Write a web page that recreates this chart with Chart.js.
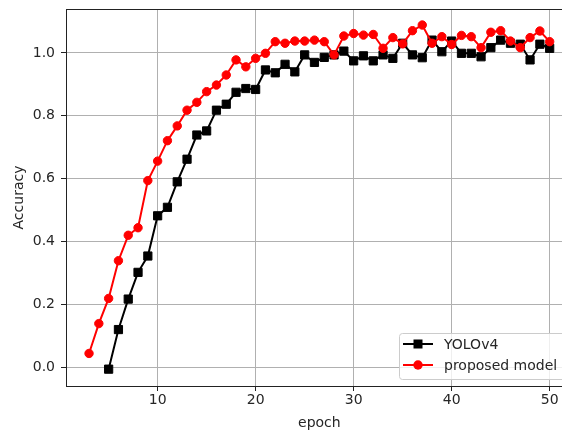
<!DOCTYPE html>
<html>
<head>
<meta charset="utf-8">
<script src="https://cdn.jsdelivr.net/npm/chart.js"></script>
<style>
  html, body { margin: 0; padding: 0; overflow: hidden; background: #fff; }
  canvas { display: block; }
</style>
</head>
<body>
<canvas id="myChart" width="562" height="432"></canvas>
<script>
// epochs and accuracy
const proposedEpochs = [3, 4, 5, 6, 7, 8, 9, 10, 11, 12, 13, 14, 15, 16, 17, 18, 19, 20, 21, 22, 23, 24, 25, 26,
    27, 28, 29, 30, 31, 32, 33, 34, 35, 36, 37, 38, 39, 40, 41, 42, 43, 44, 45, 46, 47, 48, 49, 50];
const proposedAcc = [0.044, 0.139, 0.219, 0.339, 0.420, 0.444, 0.594, 0.656, 0.721, 0.768, 0.818, 0.843,
    0.877, 0.898, 0.930, 0.978, 0.956, 0.983, 0.999, 1.036, 1.031, 1.038, 1.038, 1.041,
    1.036, 0.994, 1.054, 1.062, 1.057, 1.059, 1.015, 1.049, 1.029, 1.071, 1.089, 1.031,
    1.052, 1.027, 1.056, 1.052, 1.017, 1.066, 1.071, 1.038, 1.017, 1.049, 1.070, 1.036];

const yoloEpochs = [5, 6, 7, 8, 9, 10, 11, 12, 13, 14, 15, 16, 17, 18, 19, 20, 21, 22, 23, 24, 25, 26,
    27, 28, 29, 30, 31, 32, 33, 34, 35, 36, 37, 38, 39, 40, 41, 42, 43, 44, 45, 46, 47, 48, 49, 50];
const yoloAcc = [-0.006, 0.120, 0.217, 0.302, 0.354, 0.482, 0.509, 0.590, 0.662, 0.739, 0.752, 0.818,
    0.837, 0.875, 0.887, 0.884, 0.946, 0.937, 0.964, 0.940, 0.994, 0.970, 0.986, 0.994,
    1.006, 0.975, 0.991, 0.975, 0.994, 0.983, 1.031, 0.994, 0.985, 1.041, 1.004, 1.038,
    0.999, 0.999, 0.988, 1.017, 1.041, 1.031, 1.028, 0.978, 1.028, 1.015];

const xTicks = [10, 20, 30, 40, 50];
const yTicks = [0.0, 0.2, 0.4, 0.6, 0.8, 1.0];

const FONT = 'DejaVu Sans';
const TXT = '#262626';
const PLOT_RIGHT = 572.7; // plot box runs past the right edge of the picture

function toPoints(xs, ys) {
    return xs.map((x, i) => ({ x: x, y: ys[i] }));
}

// stretch the plot past the canvas edge, the reference is cropped there
const overhangPlugin = {
    id: 'overhang',
    afterLayout(chart) {
        const xs = chart.scales.x;
        const extra = PLOT_RIGHT - chart.chartArea.right;
        xs.right += extra;
        xs.width += extra;
        chart.chartArea.right += extra;
        chart.chartArea.width += extra;
        xs.configure();
    }
};

// top frame line + legend inside the plot (lower right, like matplotlib)
const framePlugin = {
    id: 'frame',
    afterDraw(chart) {
        const c = chart.ctx;
        const a = chart.chartArea;
        c.save();
        c.strokeStyle = '#222';
        c.lineWidth = 1;
        c.beginPath();
        c.moveTo(a.left, a.top + 0.5);
        c.lineTo(a.right, a.top + 0.5);
        c.stroke();

        // legend box
        const bx = 399, by = 333, bw = a.right - 7 - bx, bh = 46;
        c.fillStyle = 'rgba(255,255,255,0.8)';
        c.strokeStyle = '#cccccc';
        c.beginPath();
        c.roundRect(bx + 0.5, by + 0.5, bw, bh, 3);
        c.fill();
        c.stroke();

        const items = [
            { label: 'YOLOv4', color: '#000000', style: 'rect', y: 344 },
            { label: 'proposed model', color: '#ff0000', style: 'circle', y: 365 }
        ];
        items.forEach(it => {
            c.strokeStyle = it.color;
            c.fillStyle = it.color;
            c.lineWidth = 2;
            c.beginPath();
            c.moveTo(403, it.y);
            c.lineTo(433, it.y);
            c.stroke();
            if (it.style === 'rect') {
                c.fillRect(418 - 4.5, it.y - 4.5, 9, 9);
            } else {
                c.beginPath();
                c.arc(418, it.y, 4.7, 0, Math.PI * 2);
                c.fill();
            }
            c.fillStyle = TXT;
            c.font = '14px "' + FONT + '"';
            c.textAlign = 'left';
            c.textBaseline = 'middle';
            c.fillText(it.label, 444, it.y + 1);
        });
        c.restore();
    }
};

var ctx = document.getElementById('myChart').getContext('2d');
var myChart = new Chart(ctx, {
    type: 'line',
    data: {
        datasets: [{
            label: 'YOLOv4',
            data: toPoints(yoloEpochs, yoloAcc),
            borderColor: '#000000',
            backgroundColor: '#000000',
            borderWidth: 2,
            pointStyle: 'rect',
            pointRadius: 5.8,
            pointBorderWidth: 1,
            order: 1
        }, {
            label: 'proposed model',
            data: toPoints(proposedEpochs, proposedAcc),
            borderColor: '#ff0000',
            backgroundColor: '#ff0000',
            borderWidth: 2,
            pointStyle: 'circle',
            pointRadius: 4.2,
            pointBorderWidth: 1,
            order: 0
        }]
    },
    plugins: [overhangPlugin, framePlugin],
    options: {
        responsive: false,
        maintainAspectRatio: false,
        animation: false,
        layout: { padding: { top: 9, right: 0, left: 0, bottom: 0 } },
        plugins: {
            legend: { display: false },
            tooltip: { enabled: false }
        },
        scales: {
            x: {
                type: 'linear',
                min: 0.65,
                max: 52.35,
                afterBuildTicks: (axis) => { axis.ticks = xTicks.map(v => ({ value: v })); },
                afterFit: (axis) => {
                    axis.height = 46;
                    axis.paddingLeft = 0;
                    axis.paddingRight = 0;
                },
                ticks: {
                    color: TXT,
                    padding: 1,
                    font: { family: FONT, size: 14 },
                    callback: (v) => String(v)
                },
                grid: { color: '#b0b0b0', lineWidth: 1, tickLength: 5, tickColor: '#222' },
                border: { display: true, color: '#222', width: 1 },
                title: {
                    display: true,
                    text: 'epoch',
                    color: TXT,
                    font: { family: FONT, size: 14 },
                    padding: { top: 0, bottom: 0 }
                }
            },
            y: {
                type: 'linear',
                min: -0.0596,
                max: 1.140,
                afterBuildTicks: (axis) => { axis.ticks = yTicks.map(v => ({ value: v })); },
                afterFit: (axis) => {
                    axis.width = 66;
                    axis.paddingTop = 0;
                    axis.paddingBottom = 0;
                },
                ticks: {
                    color: TXT,
                    padding: 6,
                    font: { family: FONT, size: 14 },
                    callback: (v) => Number(v).toFixed(1)
                },
                grid: { color: '#b0b0b0', lineWidth: 1, tickLength: 5, tickColor: '#222' },
                border: { display: true, color: '#222', width: 1 },
                title: {
                    display: true,
                    text: 'Accuracy',
                    color: TXT,
                    font: { family: FONT, size: 14 },
                    padding: { top: 11, bottom: 0 }
                }
            }
        }
    }
});
</script>
</body>
</html>
